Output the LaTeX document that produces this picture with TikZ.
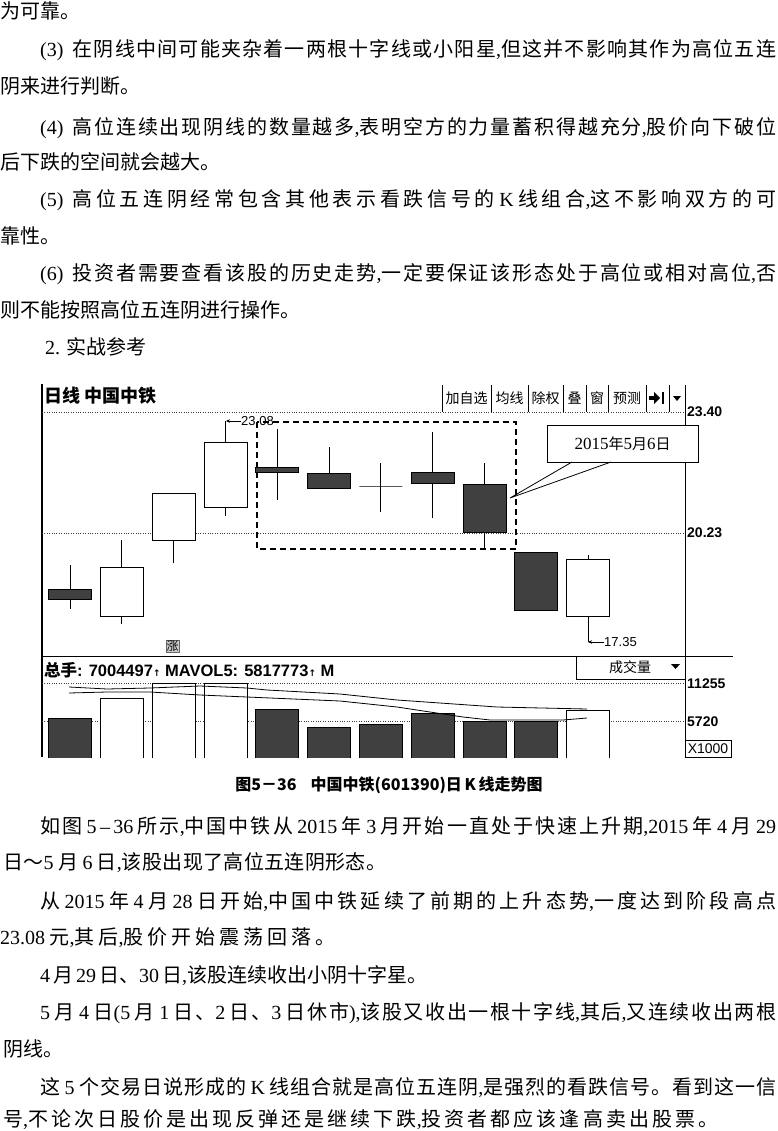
\documentclass[tikz,border=0pt]{standalone}
\usepackage{fontspec}
\setmainfont{Liberation Serif}
\newfontfamily\cjk{Noto Sans CJK SC}
\newfontfamily\lat{Liberation Serif}
\newfontfamily\lsans{Liberation Sans}
\newfontfamily\dvs{DejaVu Sans}
\usetikzlibrary{arrows.meta}
\XeTeXinterchartokenstate=1
\newcount\cjkc
\cjkc="4E00
\loop \XeTeXcharclass\cjkc=7 \ifnum\cjkc<"9FFF \advance\cjkc by 1 \repeat
\XeTeXcharclass"3001=7 \XeTeXcharclass"3002=7 \XeTeXcharclass"FF5E=7 \XeTeXcharclass"FF0D=7
\XeTeXinterchartoks 7 7 = {\hskip 0pt plus 1fil\relax}
\XeTeXinterchartoks 0 7 = {\hskip 0pt plus 1fil\relax}
\XeTeXinterchartoks 7 0 = {\hskip 0pt plus 1fil\relax}
\newcommand{\jline}[2]{\hbox to #1pt{#2}}
\begin{document}
\begin{tikzpicture}[x=1pt,y=-1pt,
  body/.style={anchor=base west, inner sep=0pt, font=\cjk\fontsize{20}{22}\selectfont},
  dk/.style={fill=black!75, draw=black, line width=0.8pt},
  wt/.style={fill=white, draw=black, line width=0.8pt},
  dotl/.style={line width=0.6pt, dash pattern=on 0.8pt off 1.6pt, black!75},
  tb/.style={inner sep=0pt, font=\cjk\fontsize{14}{14}\selectfont},
  axl/.style={anchor=west, inner sep=0pt, font=\lsans\bfseries\fontsize{14}{14}\selectfont},
  pr/.style={anchor=west, inner sep=0pt, font=\lsans\fontsize{13}{13}\selectfont}]
\useasboundingbox (0,0) rectangle (777,1131);
\fill[white] (0,0) rectangle (777,1131);

% ---------- upper text ----------
\node[body] (t1) at (0,19) {为可靠。};
\node[body] (t2) at (40,57) {\jline{736}{{\lat(3)}\hspace{9pt}在阴线中间可能夹杂着一两根十字线或小阳星{\lat,}但这并不影响其作为高位五连}};
\node[body] (t3) at (0,94) {阴来进行判断。};
\node[body] (t4) at (40,135) {\jline{736}{{\lat(4)}\hspace{9pt}高位连续出现阴线的数量越多{\lat,}表明空方的力量蓄积得越充分{\lat,}股价向下破位}};
\node[body] (t5) at (0,170) {后下跌的空间就会越大。};
\node[body] (t6) at (40,207) {\jline{736}{{\lat(5)}\hspace{9pt}高位五连阴经常包含其他表示看跌信号的 {\lat K} 线组合{\lat,}这不影响双方的可}};
\node[body] (t7) at (0,244) {靠性。};
\node[body] (t8) at (40,280) {\jline{736}{{\lat(6)}\hspace{9pt}投资者需要查看该股的历史走势{\lat,}一定要保证该形态处于高位或相对高位{\lat,}否}};
\node[body] (t9) at (0,317) {则不能按照高位五连阴进行操作。};
\node[body] (t10) at (45,354) {{\lat 2.}\hspace{6pt}实战参考};

% ---------- chart frame ----------
\draw[line width=1.3pt] (42,384) -- (42,757);
\draw[line width=0.9pt] (685,385) -- (685,757);
\draw[line width=0.9pt] (42,656) -- (733,656);
\draw[dotl] (42,412) -- (685,412);
\draw[dotl] (42,533) -- (685,533);
\draw[dotl] (42,683) -- (685,683);
\draw[dotl] (42,721) -- (685,721);

\node[anchor=west, inner sep=0pt, font=\cjk\bfseries\fontsize{18}{18}\selectfont] (title) at (44,396) {日线\ 中国中铁};

% toolbar
\foreach \xs in {442,491,528,563,586,608,646,669}
  \draw[line width=0.7pt] (\xs,385) -- (\xs,412);
\node[tb] (b1) at (466.5,398) {加自选};
\node[tb] (b2) at (509.5,398) {均线};
\node[tb] (b3) at (545.5,398) {除权};
\node[tb] (b4) at (574.5,398) {叠};
\node[tb] (b5) at (597,398) {窗};
\node[tb] (b6) at (627,398) {预测};
\fill (649,396) rectangle (655,400);
\fill (654,392) -- (660,398) -- (654,404) -- cycle;
\draw[line width=1.6pt] (663,392) -- (663,404);
\fill (673,396) -- (681,396) -- (677,401) -- cycle;

% axis labels
\node[axl] (a1) at (687,412) {23.40};
\node[axl] (a2) at (687,533) {20.23};
\node[axl] (a3) at (687,684) {11255};
\node[axl] (a4) at (687,722) {5720};
\draw[line width=0.8pt] (685,740) rectangle (731,757);
\node[inner sep=0pt, font=\lsans\fontsize{14}{14}\selectfont] (a5) at (708,749) {X1000};

% ---------- candles ----------
\foreach \i/\bt/\bb/\wtop/\wbot/\ty in {1/589/599/565/609/dk, 2/567/616/540/624/wt, 3/493/540/493/563/wt, 4/442/507/421/516/wt, 5/467/472/429/500/dk, 6/473/488/447/488/dk, 7/486/486/463/512/wt, 8/472/483/432/518/dk, 9/484/532/463/548/dk, 10/552/610/552/610/dk, 11/559/616/555/642/wt}{
  \pgfmathsetmacro\cx{70+51.8*(\i-1)}
  \draw[line width=0.8pt] (\cx,\wtop) -- (\cx,\wbot);
  \draw[\ty] (\cx-21.5,\bt) rectangle (\cx+21.5,\bb);
}

% price marks
\coordinate (hi) at (226,421);
\node[pr] (hil) at (241,421) {23.08};
\draw[line width=0.7pt, -{Stealth[length=4pt,width=3.5pt]}] (hil.west) -- (hi);
\coordinate (lo) at (588,642);
\node[pr] (lol) at (604,642) {17.35};
\draw[line width=0.7pt, -{Stealth[length=4pt,width=3.5pt]}] (lol.west) -- (lo);

% dashed frame
\draw[line width=1.4pt, dash pattern=on 6pt off 4pt] (257,422) rectangle (516,549);

% callout
\coordinate (tip) at (510,498);
\node[draw, fill=white, line width=0.8pt, minimum width=151pt, minimum height=37pt, inner sep=0pt,
  font=\lat\fontsize{17}{17}\selectfont] (call) at (622.5,443.5) {2015{\cjk\fontsize{15}{15}\selectfont 年}5{\cjk\fontsize{15}{15}\selectfont 月}6{\cjk\fontsize{15}{15}\selectfont 日}};
\draw[line width=0.8pt] (572,462) -- (tip) -- (611,462);

% rise marker
\node[fill=black!20, draw=black!60, inner sep=0.5pt, font=\cjk\fontsize{12}{12}\selectfont] (zhang) at (172.5,646.5) {涨};

% ---------- volume panel ----------
\begin{scope}
\clip (42,657) rectangle (333,683);
\node[anchor=west, inner sep=0pt, font=\lsans\bfseries\fontsize{16.5}{16.5}\selectfont] (vh) at (44,670)
  {{\cjk\bfseries 总手}: 7004497{\dvs\fontsize{9}{9}\selectfont ↑} MAVOL5: 5817773{\dvs\fontsize{9}{9}\selectfont ↑} M};
\end{scope}
\draw[line width=0.8pt] (576,656) -- (576,679) -- (685,679);
\node[tb] (cjl) at (630,667) {成交量};
\fill (671,664) -- (680,664) -- (675.5,669) -- cycle;

\begin{scope}
\clip (42,657) rectangle (685,757);
\foreach \i/\tp/\ty in {1/718/dk,2/698/wt,3/683/wt,4/683/wt,5/709/dk,6/727/dk,7/724/dk,8/713/dk,9/721/dk,10/721/dk,11/710/wt}{
  \pgfmathsetmacro\cx{70+51.8*(\i-1)}
  \draw[\ty] (\cx-21.5,\tp) rectangle (\cx+21.5,760);
}
\draw[line width=0.8pt] plot coordinates {(69,687) (107,689) (150,688) (200,686) (247,688) (267,690) (340,694) (397,700) (497,707) (587,709)};
\draw[line width=0.8pt] plot coordinates {(69,693) (107,692) (150,692) (200,695) (247,697) (340,701) (397,707) (463,717) (490,720) (563,720) (587,718)};
\end{scope}

% ---------- caption ----------
\node[inner sep=0pt, font=\cjk\bfseries\fontsize{16}{16}\selectfont] (cap) at (389,785) {图5－36\hspace{14pt}中国中铁(601390)日\,K\,线走势图};

% ---------- lower text ----------
\node[body] (u1) at (40,833) {\jline{736}{如图 {\lat 5\,–\,36} 所示{\lat,}中国中铁从 {\lat 2015} 年 {\lat 3} 月开始一直处于快速上升期{\lat,2015} 年 {\lat 4} 月 {\lat 29}}};
\node[body] (u2) at (3,869) {\jline{383}{日～{\lat 5} 月 {\lat 6} 日{\lat,}该股出现了高位五连阴形态。}};
\node[body] (u3) at (40,908) {\jline{736}{从 {\lat 2015} 年 {\lat 4} 月 {\lat 28} 日开始{\lat,}中国中铁延续了前期的上升态势{\lat,}一度达到阶段高点}};
\node[body] (u4) at (0,944) {\jline{335}{{\lat 23.08} 元{\lat,}其后{\lat,}股价开始震荡回落。}};
\node[body] (u5) at (40,982) {\jline{387}{{\lat 4} 月 {\lat 29} 日、{\lat 30} 日{\lat,}该股连续收出小阴十字星。}};
\node[body] (u6) at (40,1019) {\jline{736}{{\lat 5} 月 {\lat 4} 日{\lat(5} 月 {\lat 1} 日、{\lat 2} 日、{\lat 3} 日休市{\lat),}该股又收出一根十字线{\lat,}其后{\lat,}又连续收出两根}};
\node[body] (u7) at (3,1056) {阴线。};
\node[body] (u8) at (40,1094) {\jline{736}{这 {\lat 5} 个交易日说形成的 {\lat K} 线组合就是高位五连阴{\lat,}是强烈的看跌信号。看到这一信}};
\node[body] (u9) at (3,1126) {\jline{715}{号{\lat,}不论次日股价是出现反弹还是继续下跌{\lat,}投资者都应该逢高卖出股票。}};
\end{tikzpicture}
\end{document}
